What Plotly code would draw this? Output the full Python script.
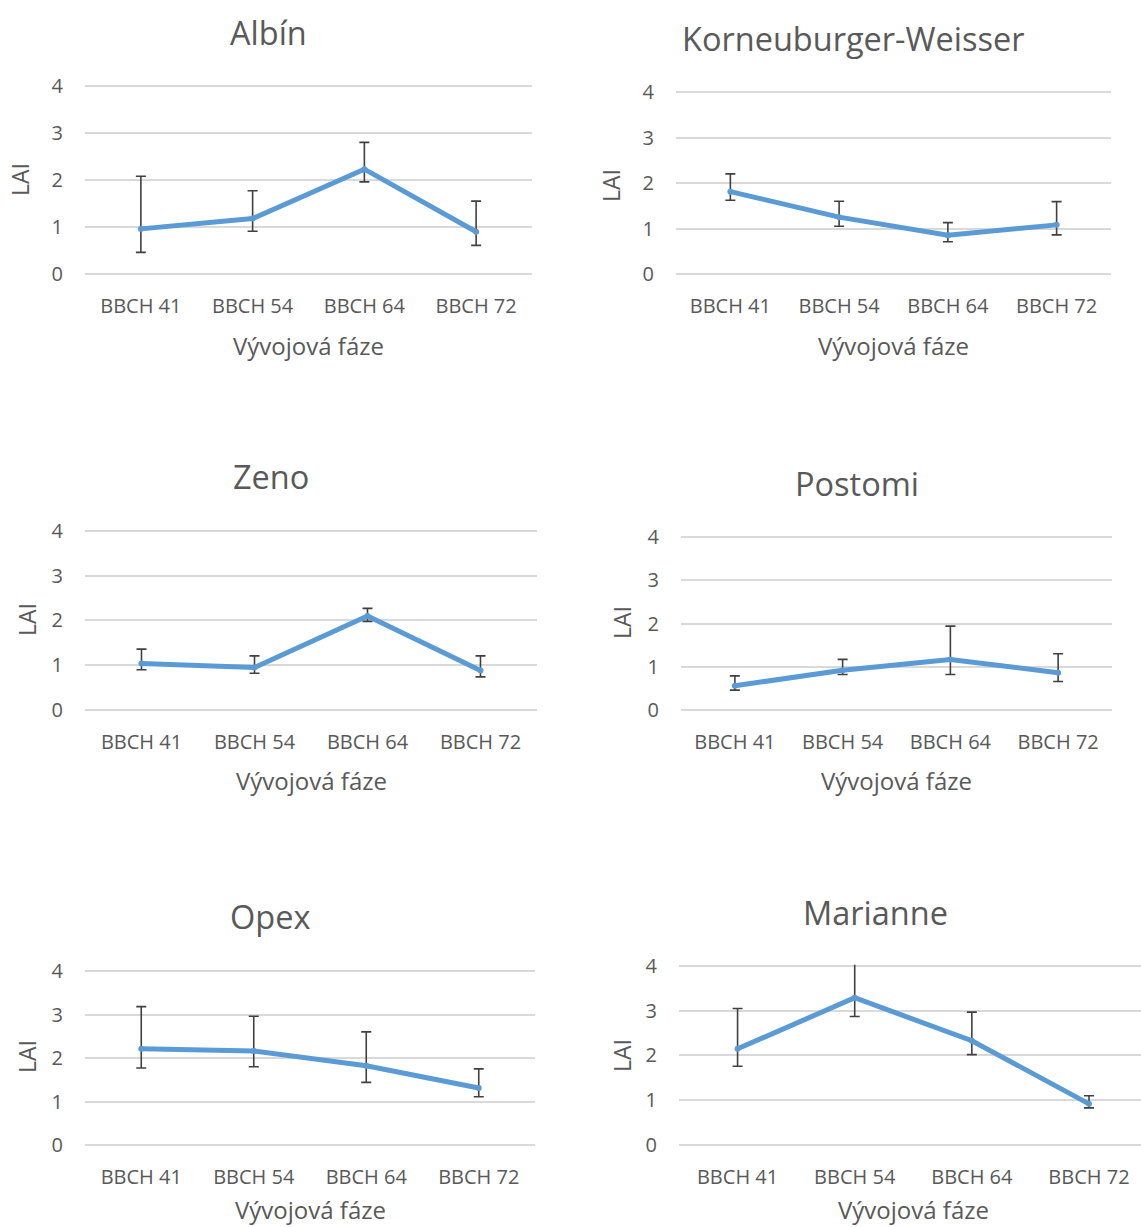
import plotly.graph_objects as go

# Growth stages on the x axis
categories = ["BBCH 41", "BBCH 54", "BBCH 64", "BBCH 72"]
y_ticks = [0, 1, 2, 3, 4]

# Mean LAI per cultivar with upper / lower error-bar limits
albin_mean = [0.96, 1.18, 2.23, 0.90]
albin_upper = [2.08, 1.77, 2.80, 1.55]
albin_lower = [0.46, 0.91, 1.96, 0.61]

korneuburger_mean = [1.81, 1.25, 0.85, 1.08]
korneuburger_upper = [2.20, 1.60, 1.13, 1.59]
korneuburger_lower = [1.62, 1.05, 0.71, 0.86]

zeno_mean = [1.04, 0.95, 2.10, 0.88]
zeno_upper = [1.36, 1.21, 2.27, 1.21]
zeno_lower = [0.90, 0.82, 1.98, 0.74]

postomi_mean = [0.56, 0.92, 1.17, 0.86]
postomi_upper = [0.79, 1.17, 1.94, 1.30]
postomi_lower = [0.46, 0.82, 0.82, 0.66]

opex_mean = [2.21, 2.16, 1.82, 1.31]
opex_upper = [3.18, 2.96, 2.60, 1.75]
opex_lower = [1.77, 1.80, 1.44, 1.11]

marianne_mean = [2.15, 3.29, 2.33, 0.92]
marianne_upper = [3.05, 4.30, 2.97, 1.10]
marianne_lower = [1.76, 2.87, 2.02, 0.83]

W, H = 1141, 1227
FONT = "Open Sans"
TEXT = "#595959"
LINE = "#5B9BD5"
ERR = "#404040"
GRID = "#D9D9D9"
PAD = 0.03  # small overshoot so the 0 and 4 gridlines are drawn

# name, mean, upper, lower, plot box px (left, right, y of 4, y of 0), x range end,
# title centre, "LAI" centre, x-title centre
panels = [
    ("Albín", albin_mean, albin_upper, albin_lower,
     (85, 532, 86, 274), 3.5, (268, 32), (20, 180), (308, 345)),
    ("Korneuburger-Weisser", korneuburger_mean, korneuburger_upper, korneuburger_lower,
     (676, 1111, 92, 274), 3.5, (853, 38), (611, 186), (893, 345)),
    ("Zeno", zeno_mean, zeno_upper, zeno_lower,
     (85, 537, 531, 710), 3.5, (271, 477), (27, 620), (311, 780)),
    ("Postomi", postomi_mean, postomi_upper, postomi_lower,
     (681, 1112, 537, 710), 3.5, (857, 483), (622, 623), (897, 780)),
    ("Opex", opex_mean, opex_upper, opex_lower,
     (85, 535, 971, 1145), 3.5, (270, 917), (27, 1057), (310, 1209)),
    ("Marianne", marianne_mean, marianne_upper, marianne_lower,
     (679, 1141, 966, 1145), 3.444, (875, 912), (622, 1056), (913, 1209)),
]


def fx(px):
    return px / W


def fy(py):
    return 1 - py / H


fig = go.Figure()
annotations = []
layout_axes = {}

for i, (name, mean, upper, lower, box, xmax, tpos, lpos, xtpos) in enumerate(panels):
    n = i + 1
    xa = "x" if n == 1 else f"x{n}"
    ya = "y" if n == 1 else f"y{n}"
    plus = [u - m for u, m in zip(upper, mean)]
    minus = [m - l for m, l in zip(mean, lower)]
    fig.add_trace(go.Scatter(
        x=list(range(len(categories))), y=mean, xaxis=xa, yaxis=ya,
        mode="lines+markers",
        line=dict(color=LINE, width=5),
        marker=dict(color=LINE, size=6),
        error_y=dict(type="data", symmetric=False, array=plus, arrayminus=minus,
                     color=ERR, thickness=1.6, width=5),
        showlegend=False, hoverinfo="skip",
    ))
    left, right, top, bottom = box
    ppu = (bottom - top) / 4.0
    layout_axes["xaxis" if n == 1 else f"xaxis{n}"] = dict(
        domain=[fx(left), fx(right)], anchor=ya, automargin=False,
        range=[-0.5, xmax], tickmode="array",
        tickvals=list(range(len(categories))), ticktext=categories,
        showgrid=False, zeroline=False, showline=False,
        ticks="outside", ticklen=13, tickcolor="rgba(0,0,0,0)",
        tickfont=dict(family=FONT, size=20, color=TEXT),
    )
    layout_axes["yaxis" if n == 1 else f"yaxis{n}"] = dict(
        domain=[fy(bottom + PAD * ppu), fy(top - PAD * ppu)], anchor=xa, automargin=False,
        range=[-PAD, 4 + PAD], tickvals=y_ticks,
        showgrid=True, gridcolor=GRID, gridwidth=1.5,
        zeroline=False, showline=False,
        ticks="outside", ticklen=17, tickcolor="rgba(0,0,0,0)",
        tickfont=dict(family=FONT, size=20, color=TEXT),
    )
    annotations.append(dict(
        text=name, x=fx(tpos[0]), y=fy(tpos[1]), xref="paper", yref="paper",
        xanchor="center", yanchor="middle", showarrow=False,
        font=dict(family=FONT, size=32.5, color=TEXT),
    ))
    annotations.append(dict(
        text="LAI", x=fx(lpos[0]), y=fy(lpos[1]), xref="paper", yref="paper",
        xanchor="center", yanchor="middle", showarrow=False, textangle=-90,
        font=dict(family=FONT, size=23, color=TEXT),
    ))
    annotations.append(dict(
        text="Vývojová fáze", x=fx(xtpos[0]), y=fy(xtpos[1]), xref="paper", yref="paper",
        xanchor="center", yanchor="middle", showarrow=False,
        font=dict(family=FONT, size=24, color=TEXT),
    ))

fig.update_layout(
    width=W, height=H,
    margin=dict(l=0, r=0, t=0, b=0, autoexpand=False),
    paper_bgcolor="white", plot_bgcolor="white",
    annotations=annotations,
    **layout_axes,
)

fig.write_html("out.html")
